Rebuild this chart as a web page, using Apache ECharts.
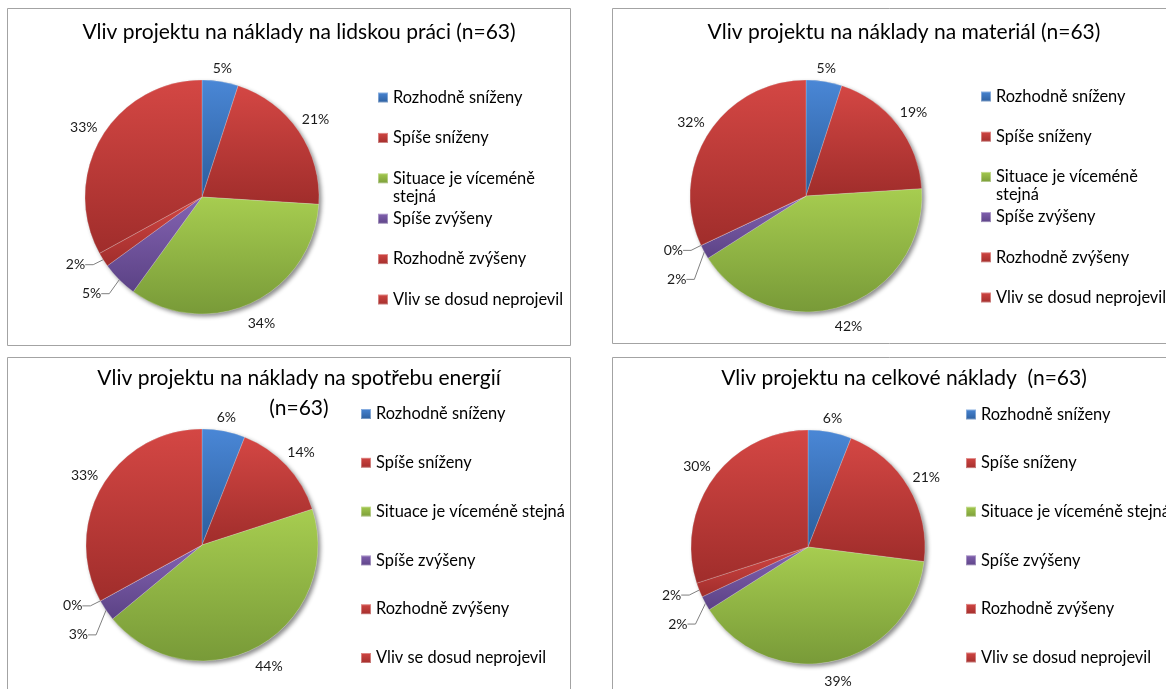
<!DOCTYPE html>
<html>
<head>
<meta charset="utf-8">
<script src="https://cdn.jsdelivr.net/npm/echarts@6/dist/echarts.min.js"></script>
<style>
  html, body { margin: 0; padding: 0; background: #fff; width: 1166px; height: 689px; overflow: hidden; }
  .layer { position: absolute; left: 0; top: 0; width: 1166px; height: 689px; }
</style>
</head>
<body>
<div id="chart0" class="layer"></div>
<div id="chart1" class="layer"></div>
<div id="chart2" class="layer"></div>
<div id="chart3" class="layer"></div>
<script>
// Answer categories (same for all four questions)
const categories = [
  'Rozhodně sníženy',
  'Spíše sníženy',
  'Situace je víceméně stejná',
  'Spíše zvýšeny',
  'Rozhodně zvýšeny',
  'Vliv se dosud neprojevil'
];

// Chart titles
const titles = [
  'Vliv projektu na náklady na lidskou práci (n=63)',
  'Vliv projektu na náklady na materiál (n=63)',
  'Vliv projektu na náklady na spotřebu energií\n(n=63)',
  'Vliv projektu na celkové náklady  (n=63)'
];

// Shares of answers in percent
const laborCosts    = [5, 21, 34, 5, 2, 33];
const materialCosts = [5, 19, 42, 2, 0, 32];
const energyCosts   = [6, 14, 44, 3, 0, 33];
const totalCosts    = [6, 21, 39, 2, 2, 30];

const FONT = 'Lato';

// Slice fills: lighter at the top, darker at the bottom
const palette = {
  blue:   ['#4a87d6', '#2b5d9c'],
  red:    ['#d44744', '#a02d2b'],
  green:  ['#a7cd50', '#789a38'],
  purple: ['#8463b2', '#5b4285']
};
const categoryColors = ['blue', 'red', 'green', 'purple', 'red', 'red'];

function fill(i) {
  const c = palette[categoryColors[i]];
  return new echarts.graphic.LinearGradient(0, 0, 0, 1, [
    { offset: 0, color: c[0] },
    { offset: 1, color: c[1] }
  ]);
}

// Panel geometry
const panels = [
  { values: laborCosts,    frame: [7, 8, 563, 337],     titleX: 299, titleTop: 19,  lineH: 26, cx: 202, cy: 197, r: 117, legendX: 377, legendY0: 97.5,  legendStep: 40.4, wrap: true },
  { values: materialCosts, frame: [612, 8, 600, 335],   titleX: 904, titleTop: 19,  lineH: 26, cx: 806, cy: 196, r: 116, legendX: 980, legendY0: 96.5,  legendStep: 40.2, wrap: true },
  { values: energyCosts,   frame: [7, 357, 563, 400],   titleX: 299, titleTop: 363, lineH: 30, cx: 202, cy: 545, r: 116, legendX: 360, legendY0: 414,   legendStep: 48.8, wrap: false },
  { values: totalCosts,    frame: [612, 357, 600, 400], titleX: 904, titleTop: 365, lineH: 26, cx: 808, cy: 547, r: 117, legendX: 965, legendY0: 414.5, legendStep: 48.6, wrap: false }
];

const CALLOUT_SPACING = 29;

function midAngle(values, i) {
  const total = values.reduce((a, b) => a + b, 0);
  let before = 0;
  for (let k = 0; k < i; k++) before += values[k];
  return (before + values[i] / 2) / total * 2 * Math.PI;
}

// Small slices in the lower-left quarter get a callout with a leader line
function isCallout(values, i) {
  const a = midAngle(values, i) * 180 / Math.PI;
  return values[i] <= 5 && a > 180 && a < 270;
}

// Point on the rim at the middle of slice i
function rimPoint(p, i) {
  const a = midAngle(p.values, i);
  const dx = Math.sin(a), dy = -Math.cos(a);
  return { dx: dx, dy: dy, x: p.cx + p.r * dx, y: p.cy + p.r * dy };
}

// Callout label positions: left of the rim, stacked downwards so they keep apart
function calloutPositions(p) {
  const items = [];
  p.values.forEach((v, i) => {
    if (isCallout(p.values, i)) {
      const rp = rimPoint(p, i);
      items.push({ i: i, x: rp.x - 16, y: rp.y + 5 });
    }
  });
  items.sort((a, b) => a.y - b.y);
  const pos = {};
  let last = -Infinity;
  items.forEach(it => {
    const y = Math.max(it.y, last + CALLOUT_SPACING);
    last = y;
    pos[it.i] = { x: it.x, y: y };
  });
  return pos;
}

function buildOption(p, title) {
  const values = p.values;
  const callouts = calloutPositions(p);

  const data = categories.map((name, i) => {
    const callout = isCallout(values, i);
    return {
      name: name,
      value: values[i],
      itemStyle: { color: fill(i) },
      label: callout ? { padding: [0, 2] } : {},
      labelLine: { show: callout }
    };
  });

  const legends = categories.map((name, i) => {
    const cy = p.legendY0 + i * p.legendStep;
    const wrapped = p.wrap && i === 2;
    const textStyle = { fontFamily: FONT, fontSize: 16.4, color: '#000', lineHeight: 18 };
    const item = {
      data: [name],
      orient: 'vertical',
      left: p.legendX,
      top: cy - 9,
      padding: 0,
      itemWidth: 10,
      itemHeight: 10,
      icon: 'rect',
      selectedMode: false,
      textStyle: textStyle
    };
    if (wrapped) {
      // long entry breaks onto a second line; first line stays level with the marker
      Object.assign(textStyle, { width: 180, overflow: 'break' });
      item.formatter = n => '\n' + n;
      item.top = cy - 27;
    }
    return item;
  });

  return {
    animation: false,
    title: {
      text: title,
      left: p.titleX,
      top: p.titleTop,
      textAlign: 'center',
      textVerticalAlign: 'top',
      padding: 0,
      textStyle: { fontFamily: FONT, fontSize: 21, fontWeight: 'normal', color: '#000', lineHeight: p.lineH }
    },
    legend: legends,
    graphic: [{
      type: 'rect',
      silent: true,
      shape: { x: p.frame[0] + 0.5, y: p.frame[1] + 0.5, width: p.frame[2], height: p.frame[3] },
      style: { fill: 'none', stroke: '#a3a3a3', lineWidth: 1 }
    }],
    series: [
      // soft drop shadow under the pie
      {
        type: 'pie',
        silent: true,
        z: 1,
        center: [p.cx, p.cy],
        radius: p.r,
        label: { show: false },
        labelLine: { show: false },
        emphasis: { disabled: true },
        data: [{
          value: 1,
          name: '',
          itemStyle: {
            color: '#bdbdbd',
            shadowColor: 'rgba(0,0,0,0.45)',
            shadowBlur: 4,
            shadowOffsetX: 2.5,
            shadowOffsetY: 2.5
          }
        }]
      },
      {
        type: 'pie',
        z: 2,
        center: [p.cx, p.cy],
        radius: p.r,
        startAngle: 90,
        clockwise: true,
        avoidLabelOverlap: false,
        emphasis: { disabled: true },
        itemStyle: { borderColor: 'rgba(255,255,255,0.35)', borderWidth: 0.6 },
        label: {
          show: true,
          position: 'outside',
          formatter: '{c}%',
          fontFamily: FONT,
          fontSize: 14,
          color: '#1a1a1a'
        },
        labelLine: {
          show: false,
          length: 10,
          length2: 8,
          smooth: false,
          lineStyle: { color: '#7f7f7f', width: 1 }
        },
        labelLayout: function (params) {
          const i = params.dataIndex;
          if (callouts[i]) {
            return { x: callouts[i].x, y: callouts[i].y, align: 'right', verticalAlign: 'middle' };
          }
          const rp = rimPoint(p, i);
          const w = params.labelRect.width, h = params.labelRect.height;
          const gap = 5 + 6 * Math.max(0, rp.dy);
          const d = gap + Math.abs(rp.dx) * w / 2 + Math.abs(rp.dy) * h / 2;
          return { x: rp.x + rp.dx * d, y: rp.y + rp.dy * d, align: 'center', verticalAlign: 'middle' };
        },
        data: data
      }
    ]
  };
}

panels.forEach((p, k) => {
  const chart = echarts.init(document.getElementById('chart' + k), null, { renderer: 'canvas' });
  chart.setOption(buildOption(p, titles[k]));
});
</script>
</body>
</html>
